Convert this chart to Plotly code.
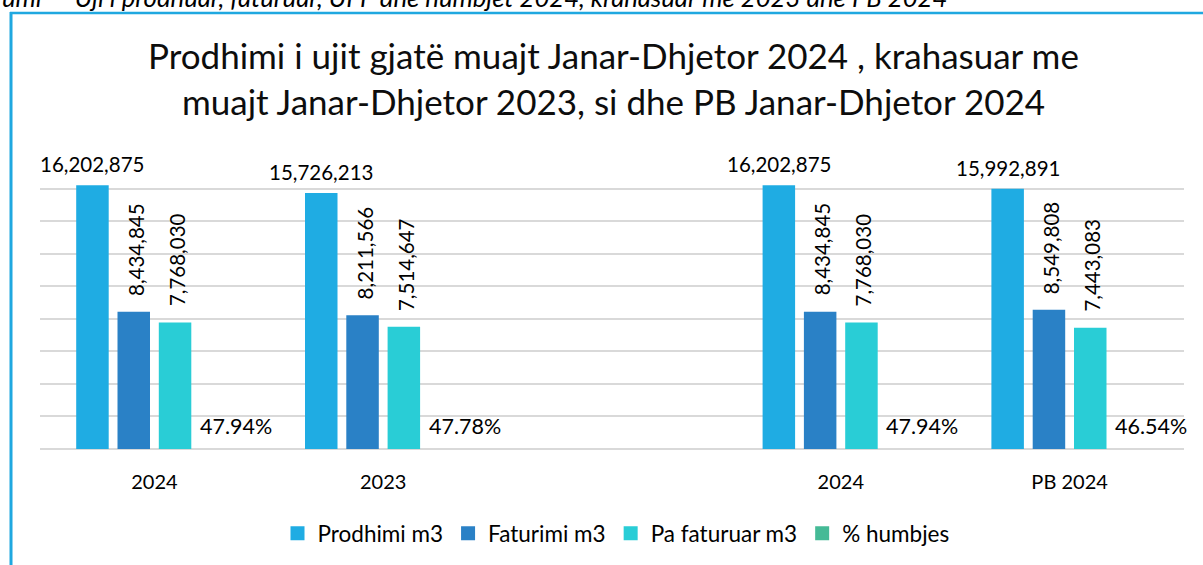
import plotly.graph_objects as go

# ---------------- data ----------------
periods = ["2024", "2023", "2024", "PB 2024"]
prodhimi = [16202875, 15726213, 16202875, 15992891]
faturimi = [8434845, 8211566, 8434845, 8549808]
pa_faturuar = [7768030, 7514647, 7768030, 7443083]
humbje_pct = [47.94, 47.78, 47.94, 46.54]
series_names = ["Prodhimi m3", "Faturimi m3", "Pa faturuar m3", "% humbjes"]
title_lines = ["Prodhimi i ujit gjatë muajt Janar-Dhjetor 2024 , krahasuar me",
               "muajt Janar-Dhjetor 2023, si dhe PB Janar-Dhjetor 2024"]
caption = "umi  – Uji i prodhuar, faturuar, UFP dhe humbjet 2024, krahasuar me 2023 dhe PB 2024"

# ---------------- styles ----------------
colors = ["#1FACE3", "#2A81C6", "#29CDD6", "#45BA96"]
FONT = "Lato"
W, H = 1203, 565
L, R, T, B = 40, 19, 156, 116
PW, PH = W - L - R, H - T - B
BARGAP, GROUPGAP = 0.278, 0.213
NCAT = 5

def px_x(px):
    return (px - L) / PW

def px_y(py):
    return 1 - (py - T) / PH

# x positions: leave an empty slot between the two comparisons
pos = [i + (1 if i >= 2 else 0) for i in range(len(periods))]

cat_w = PW / NCAT
slot = cat_w * (1 - BARGAP) / 4
bar_w = slot * (1 - GROUPGAP)

fig = go.Figure()
values = [prodhimi, faturimi, pa_faturuar, [v / 100 for v in humbje_pct]]
for k, vals in enumerate(values):
    fig.add_trace(go.Bar(
        x=pos, y=vals, name=series_names[k], showlegend=False,
        marker=dict(color=colors[k], line=dict(width=0)),
        hoverinfo="skip",
    ))
# legend entries with square keys
for k, name in enumerate(series_names):
    fig.add_trace(go.Scatter(
        x=[None], y=[None], mode="markers", name=name,
        marker=dict(symbol="square", size=14, color=colors[k], line=dict(width=0)),
        hoverinfo="skip",
    ))

LBL = dict(family=FONT, size=20.5, color="#000")
annotations = []
# value labels
for i, p in enumerate(pos):
    annotations.append(dict(x=p, y=prodhimi[i], xref="x", yref="y",
                            text=f"{prodhimi[i]:,}", showarrow=False,
                            xshift=-1.5 * slot, yshift=21, yanchor="middle", font=LBL))
    for k, vals in ((1, faturimi), (2, pa_faturuar)):
        annotations.append(dict(x=p, y=vals[i], xref="x", yref="y",
                                text=f"{vals[i]:,}", showarrow=False, textangle=-90,
                                xshift=(k - 1.5) * slot + 2, yshift=14, yanchor="bottom",
                                font=LBL))
    annotations.append(dict(x=p, y=0, xref="x", yref="y",
                            text=f"{humbje_pct[i]:.2f}%", showarrow=False,
                            xanchor="left", yanchor="middle",
                            xshift=1.5 * slot - bar_w / 2 - 2, yshift=23,
                            font=dict(family=FONT, size=21.5, color="#000")))

# title lines
annotations.append(dict(x=px_x(613), y=px_y(55), xref="paper", yref="paper",
                        text=title_lines[0], showarrow=False, xanchor="center", yanchor="middle",
                        font=dict(family=FONT, size=35, color="#0d0d0d")))
annotations.append(dict(x=px_x(613), y=px_y(101), xref="paper", yref="paper",
                        text=title_lines[1], showarrow=False, xanchor="center", yanchor="middle",
                        font=dict(family=FONT, size=35, color="#0d0d0d")))
# cut-off caption at the very top
annotations.append(dict(x=px_x(0), y=px_y(-3.5), xref="paper", yref="paper",
                        text=caption, showarrow=False, xanchor="left", yanchor="middle",
                        font=dict(family=FONT, size=25.7, color="#000", style="italic")))

shapes = [
    dict(type="line", xref="paper", yref="paper", x0=px_x(11), x1=px_x(11),
         y0=px_y(12), y1=px_y(H + 5), line=dict(color="#1FA8E0", width=3)),
    dict(type="line", xref="paper", yref="paper", x0=px_x(10), x1=px_x(W + 5),
         y0=px_y(13), y1=px_y(13), line=dict(color="#1FA8E0", width=2.5)),
]

fig.update_layout(
    width=W, height=H,
    margin=dict(l=L, r=R, t=T, b=B, pad=0, autoexpand=False),
    paper_bgcolor="white", plot_bgcolor="white",
    barmode="group", bargap=BARGAP, bargroupgap=GROUPGAP,
    font=dict(family=FONT, color="#000"),
    showlegend=True,
    legend=dict(orientation="h", x=px_x(616), xanchor="center",
                y=px_y(512), yanchor="top", font=dict(family=FONT, size=22.5, color="#000"),
                itemwidth=30, traceorder="normal", bgcolor="rgba(0,0,0,0)"),
    xaxis=dict(range=[-0.5, NCAT - 0.5], tickmode="array", tickvals=pos, ticktext=periods,
               showgrid=False, zeroline=False, showline=False, ticks="",
               ticklabelstandoff=19, tickfont=dict(family=FONT, size=20, color="#000"),
               fixedrange=True),
    yaxis=dict(range=[0, 18e6], tickmode="array",
               tickvals=[v * 2e6 for v in range(10)], showticklabels=False, showgrid=True,
               gridcolor="#D9D9D9", gridwidth=2, zeroline=True, zerolinecolor="#D9D9D9",
               zerolinewidth=2, showline=False, ticks="", fixedrange=True),
    annotations=annotations,
    shapes=shapes,
)

fig.write_html("out.html", config={"displayModeBar": False},
               post_script="document.body.style.margin='0px';")
